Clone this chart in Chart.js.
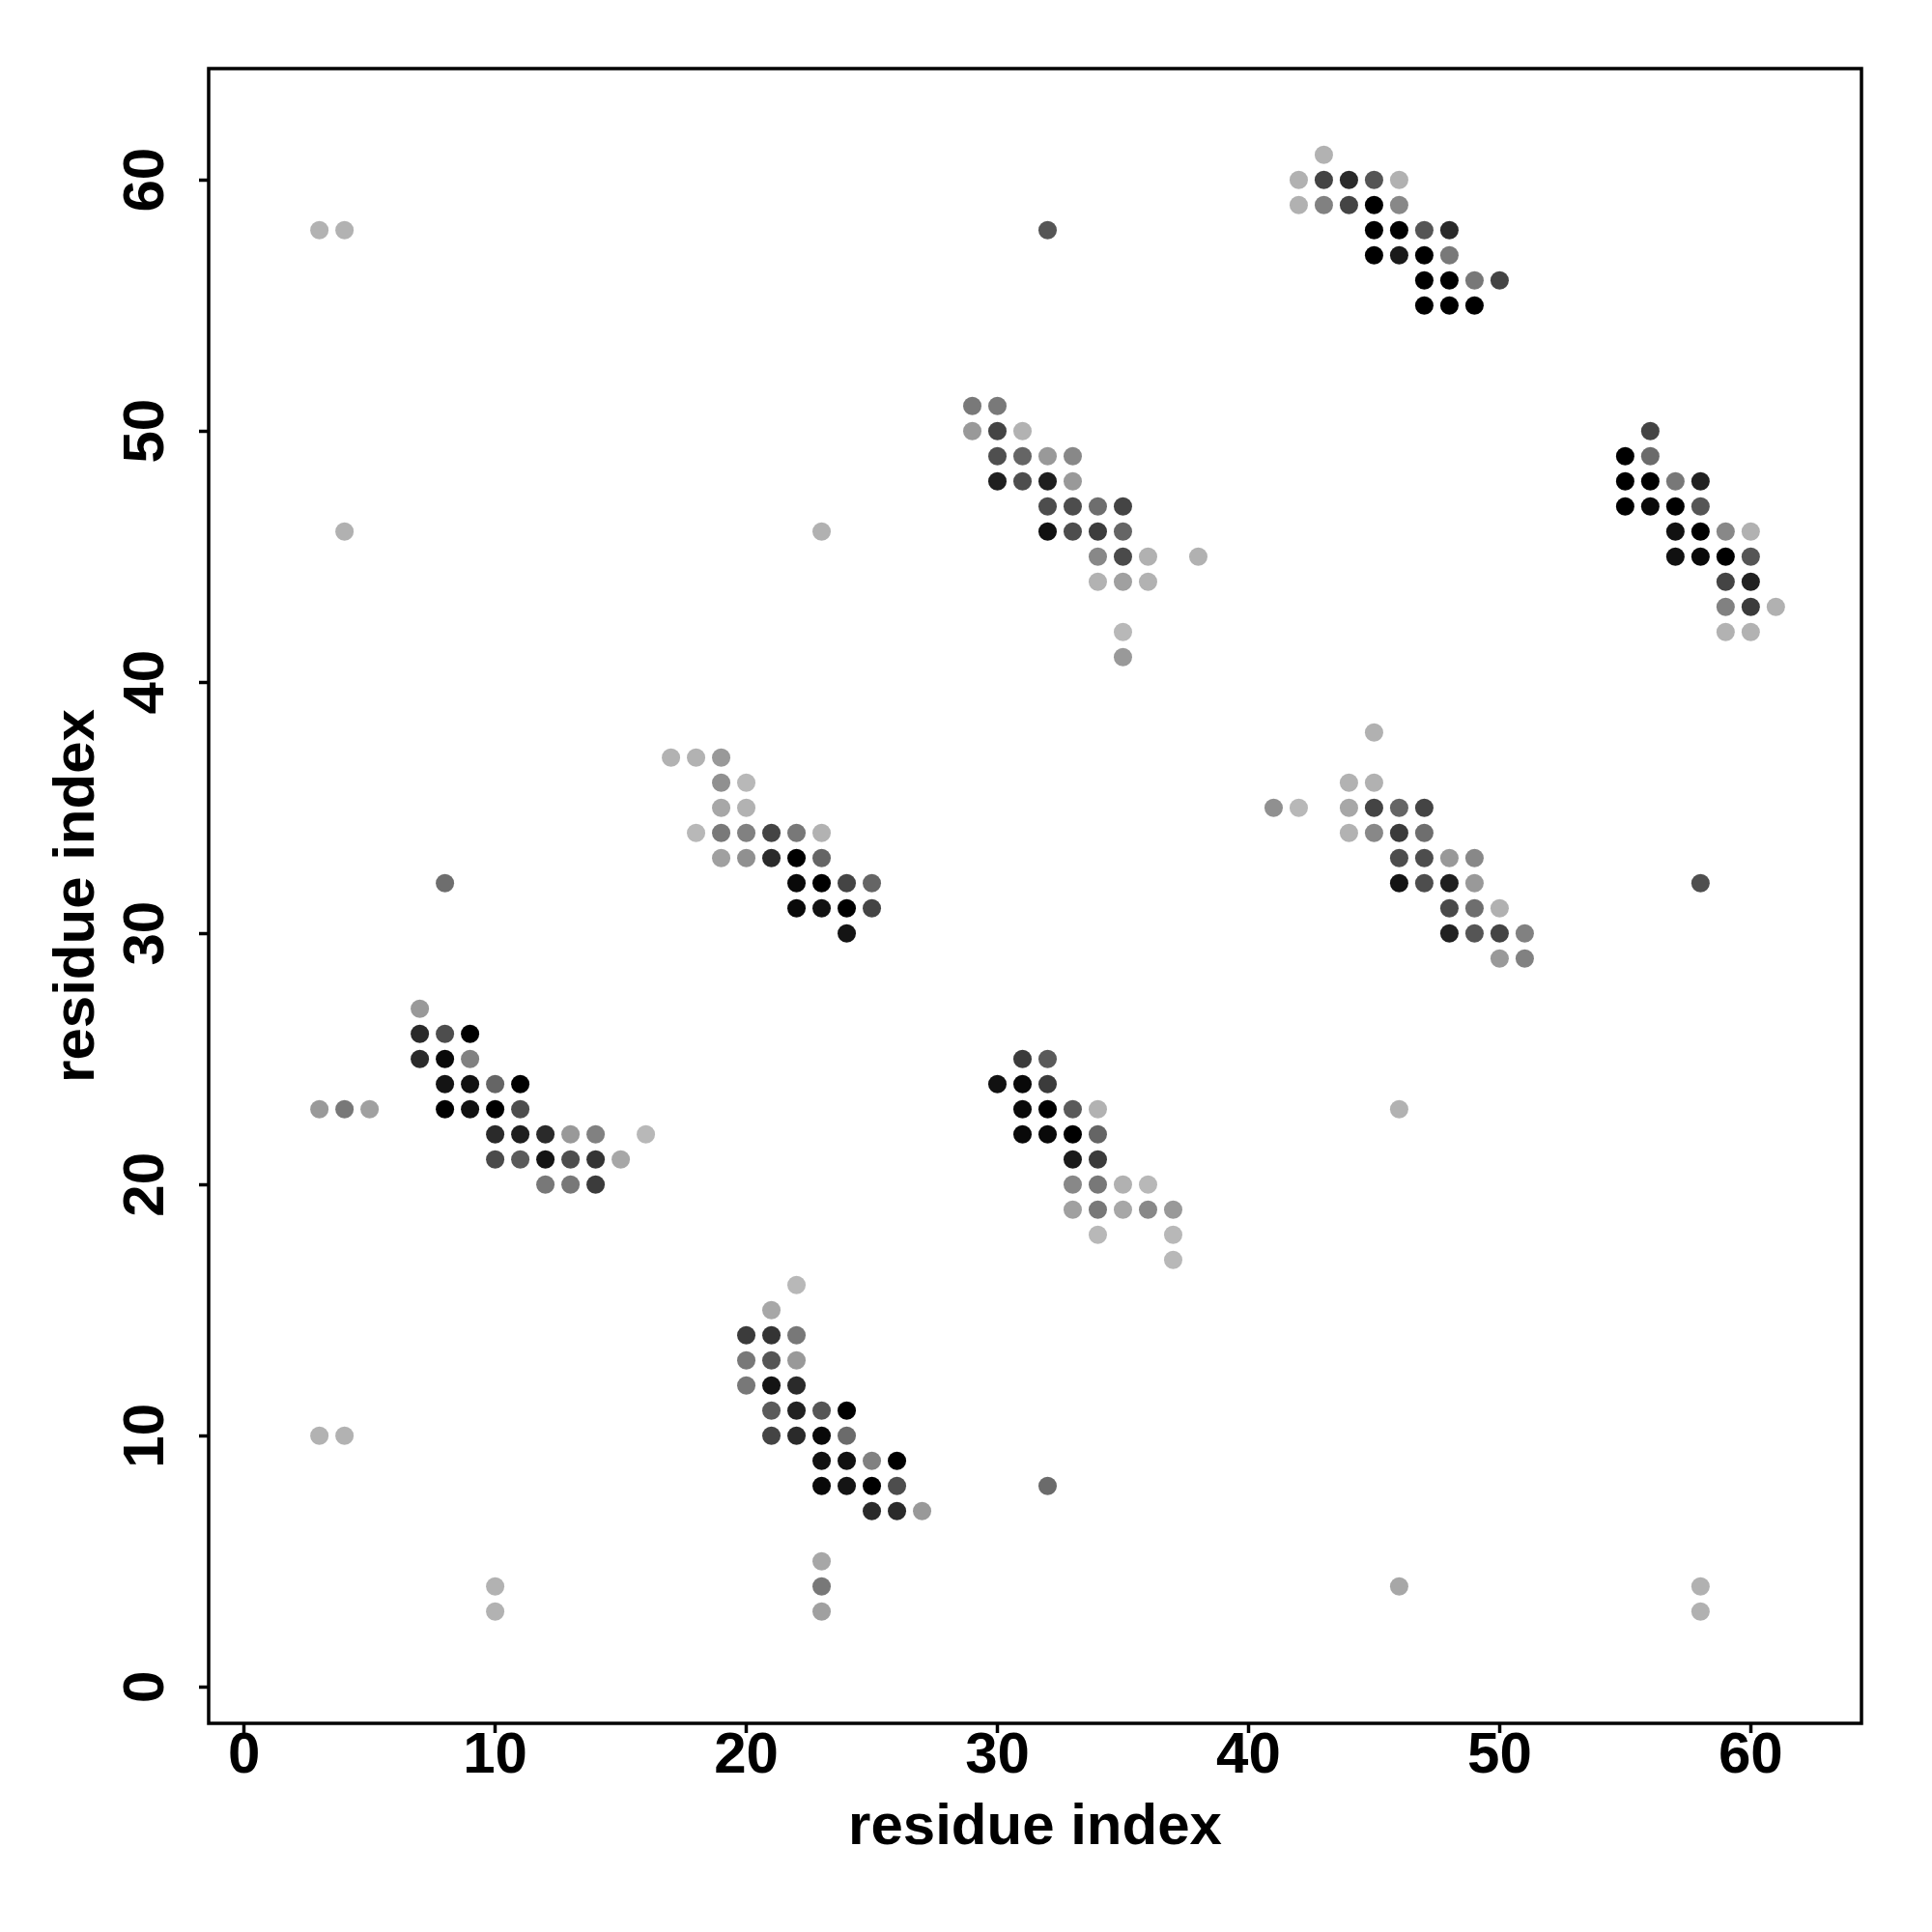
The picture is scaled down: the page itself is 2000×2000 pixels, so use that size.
<!DOCTYPE html>
<html>
<head>
<meta charset="utf-8">
<script src="https://cdn.jsdelivr.net/npm/chart.js@4.4.1/dist/chart.umd.min.js"></script>
<style>
  body { margin: 0; background: #fff; }
</style>
</head>
<body>
<canvas id="contactMap" width="2000" height="2000"></canvas>
<script>
// residue pairs (i on x, j on y) and contact probability (1 = black)
const resI = [
  3, 4, 4, 32, 23, 8, 46, 58, 3, 4, 10, 10, 32, 23, 23, 23, 46, 58, 58, 3, 4, 5,
  43, 42, 43, 44, 45, 46, 42, 43, 44, 45, 46, 45, 46, 47, 48, 45, 46, 47, 48, 47, 48, 49, 50, 47, 48, 49,
  29, 30, 29, 30, 31, 30, 31, 32, 33, 30, 31, 32, 33, 32, 33, 34, 35, 32, 33, 34, 35, 34, 35, 36, 38, 34, 35, 36, 35, 35,
  56, 55, 56, 55, 56, 57, 58, 55, 56, 57, 58, 57, 58, 59, 60, 57, 58, 59, 60, 59, 60, 59, 60, 61, 59, 60,
  17, 18, 19, 19, 20, 19, 20, 18, 19, 20, 21, 22, 23, 19, 20, 21, 22, 23, 22, 23, 24, 25, 22, 23, 24, 25, 24,
  45, 44, 45, 41, 42, 44, 45, 46, 47, 44, 45, 46, 47, 46, 47, 48, 49, 46, 47, 48, 49, 48, 49, 50, 48, 49, 50, 51, 50, 51,
  7, 7, 8, 9, 7, 8, 9, 8, 9, 10, 11, 8, 9, 10, 11, 10, 11, 12, 13, 14, 16, 10, 11, 12, 13, 14, 15, 12, 13, 14,
  31, 32, 30, 31, 32, 31, 32, 33, 34, 31, 32, 33, 34, 33, 34, 33, 34, 35, 36, 33, 34, 35, 36, 37, 34, 37, 37,
  22, 21, 20, 21, 22, 20, 21, 22, 20, 21, 22, 21, 22, 23, 24, 21, 22, 23, 24, 23, 24, 25, 26, 23, 24, 25, 26, 25, 26, 27
];
const resJ = [
  58, 58, 46, 58, 46, 32, 23, 32, 10, 10, 4, 3, 8, 5, 4, 3, 4, 4, 3, 23, 23, 23,
  61, 60, 60, 60, 60, 60, 59, 59, 59, 59, 59, 58, 58, 58, 58, 57, 57, 57, 57, 56, 56, 56, 56, 55, 55, 55,
  51, 51, 50, 50, 50, 49, 49, 49, 49, 48, 48, 48, 48, 47, 47, 47, 47, 46, 46, 46, 46, 45, 45, 45, 45, 44, 44, 44, 42, 41,
  50, 49, 49, 48, 48, 48, 48, 47, 47, 47, 47, 46, 46, 46, 46, 45, 45, 45, 45, 44, 44, 43, 43, 43, 42, 42,
  37, 37, 37, 36, 36, 35, 35, 34, 34, 34, 34, 34, 34, 33, 33, 33, 33, 33, 32, 32, 32, 32, 31, 31, 31, 31, 30,
  38, 36, 36, 35, 35, 35, 35, 35, 35, 34, 34, 34, 34, 33, 33, 33, 33, 32, 32, 32, 32, 31, 31, 31, 30, 30, 30, 30, 29, 29,
  27, 26, 26, 26, 25, 25, 25, 24, 24, 24, 24, 23, 23, 23, 23, 22, 22, 22, 22, 22, 22, 21, 21, 21, 21, 21, 21, 20, 20, 20,
  25, 25, 24, 24, 24, 23, 23, 23, 23, 22, 22, 22, 22, 21, 21, 20, 20, 20, 20, 19, 19, 19, 19, 19, 18, 18, 17,
  16, 15, 14, 14, 14, 13, 13, 13, 12, 12, 12, 11, 11, 11, 11, 10, 10, 10, 10, 9, 9, 9, 9, 8, 8, 8, 8, 7, 7, 7
];
const prob = [
  .03, .03, .04, .54, .04, .40, .03, .57, .03, .03, .03, .03, .42, .09, .35, .13, .09, .04, .04, .17, .35, .13,
  .03, .04, .63, .77, .54, .04, .04, .30, .63, 1, .26, 1, 1, .54, .77, 1, .86, 1, .34, 1, 1, .35, .63, 1, 1, 1,
  .34, .34, .17, .63, .03, .57, .45, .17, .26, .83, .58, .83, .17, .58, .58, .40, .63, .91, .58, .67, .45, .26, .60, .04, .04, .03, .13, .03, 0, .17,
  .63, 1, .42, 1, 1, .35, .82, 1, .95, 1, .54, .91, 1, .26, .04, .91, .95, 1, .54, .63, .82, .30, .68, .04, .03, .03,
  .03, .03, .17, .22, 0, .09, .03, 0, .34, .30, .63, .35, .03, .13, .22, .77, 1, .45, .95, 1, .63, .45, .95, .91, 1, .63, .89,
  .04, .03, .04, .22, 0, .09, .63, .45, .63, .03, .26, .68, .40, .58, .58, .17, .26, .89, .58, .83, .17, .60, .40, .04, .82, .54, .63, .30, .17, .30,
  .17, .77, .58, 1, .77, .95, .30, .89, .91, .45, 1, 1, .91, 1, .58, .77, .83, .77, .17, .30, 0, .60, .51, .89, .58, .72, .09, .35, .35, .68,
  .68, .51, .91, .95, .68, .95, 1, .51, .03, .95, .95, 1, .45, .86, .68, .26, .35, .04, 0, .13, .35, .09, .26, .17, 0, 0, 0,
  0, .09, .68, .72, .35, .35, .54, .17, .35, .89, .77, .51, .82, .54, 1, .63, .77, .95, .42, .91, .91, .30, 1, .95, .89, 1, .58, .77, .77, .17
];
const xTicks = [0, 10, 20, 30, 40, 50, 60];
const yTicks = [0, 10, 20, 30, 40, 50, 60];
const axisTitle = "residue index";

function shade(p) {
  var g = Math.round(184 * (1 - p));
  return "rgb(" + g + "," + g + "," + g + ")";
}

var points = resI.map(function (x, k) {
  return { x: x, y: resJ[k] };
});

var boxPlugin = {
  id: "plotBox",
  afterDraw: function (chart) {
    var a = chart.chartArea;
    var ctx = chart.ctx;
    ctx.save();
    ctx.strokeStyle = "#000";
    ctx.lineWidth = 3.5;
    ctx.strokeRect(a.left, a.top, a.right - a.left, a.bottom - a.top);
    ctx.restore();
  },
};

var font = { family: "'Liberation Sans', Arial, Helvetica, sans-serif", size: 60, weight: "bold" };

new Chart(document.getElementById("contactMap").getContext("2d"), {
  type: "scatter",
  data: {
    datasets: [
      {
        data: points,
        backgroundColor: prob.map(shade),
        borderWidth: 0,
        pointRadius: 9.5,
        pointHoverRadius: 9.5,
      },
    ],
  },
  options: {
    responsive: false,
    animation: false,
    devicePixelRatio: 1,
    layout: { padding: { top: 71, right: 73, left: 0, bottom: 0 } },
    plugins: { legend: { display: false }, tooltip: { enabled: false } },
    scales: {
      x: {
        type: "linear",
        min: -1.41,
        max: 64.41,
        afterBuildTicks: function (s) {
          s.ticks = xTicks.map(function (v) { return { value: v }; });
        },
        afterFit: function (s) { s.height = 216; },
        border: { display: false },
        grid: { drawOnChartArea: false, drawTicks: true, tickLength: 10, tickWidth: 3.5, color: "#000" },
        ticks: {
          color: "#000",
          font: Object.assign({ lineHeight: 0.8 }, font),
          padding: 0,
          autoSkip: false,
          maxRotation: 0,
          includeBounds: false,
        },
        title: {
          display: true,
          text: axisTitle,
          color: "#000",
          font: font,
          padding: { top: 0, bottom: 72 },
        },
      },
      y: {
        type: "linear",
        min: -1.45,
        max: 64.43,
        afterBuildTicks: function (s) {
          s.ticks = yTicks.map(function (v) { return { value: v }; });
        },
        afterFit: function (s) { s.width = 216; },
        border: { display: false },
        grid: { drawOnChartArea: false, drawTicks: true, tickLength: 10, tickWidth: 3.5, color: "#000" },
        ticks: {
          color: "#000",
          font: font,
          padding: 20,
          minRotation: 90,
          maxRotation: 90,
          crossAlign: "center",
          autoSkip: false,
          includeBounds: false,
        },
        title: {
          display: true,
          text: axisTitle,
          color: "#000",
          font: font,
          padding: { top: 44, bottom: 0 },
        },
      },
    },
  },
  plugins: [boxPlugin],
});
</script>
</body>
</html>
